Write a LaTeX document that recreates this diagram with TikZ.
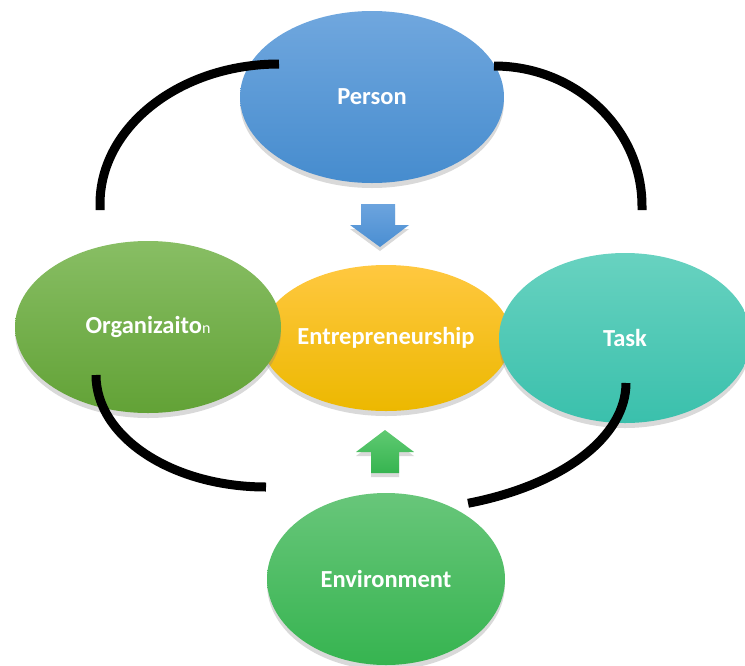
\documentclass[tikz,border=0pt]{standalone}
\usepackage{fontspec}
\setmainfont{Carlito}
\usetikzlibrary{shapes.geometric,shadows}

% Colores
\definecolor{personaArriba}{RGB}{112,167,222}
\definecolor{personaAbajo}{RGB}{70,140,206}
\definecolor{orgArriba}{RGB}{136,190,100}
\definecolor{orgAbajo}{RGB}{98,162,54}
\definecolor{empArriba}{RGB}{255,200,64}
\definecolor{empAbajo}{RGB}{236,184,0}
\definecolor{tareaArriba}{RGB}{104,210,192}
\definecolor{tareaAbajo}{RGB}{58,192,172}
\definecolor{entornoArriba}{RGB}{104,198,122}
\definecolor{entornoAbajo}{RGB}{54,180,80}
\definecolor{flechaAzulArriba}{RGB}{108,164,222}
\definecolor{flechaAzulAbajo}{RGB}{74,142,210}
\definecolor{flechaVerdeArriba}{RGB}{96,202,114}
\definecolor{flechaVerdeAbajo}{RGB}{54,180,80}

\tikzset{
  elipse/.style={ellipse, inner sep=0pt, text=white,
    font=\bfseries\fontsize{24.5}{28}\selectfont,
    drop shadow={shadow xshift=0pt, shadow yshift=-5pt, opacity=0.3}},
  anillo/.style={line width=9pt, black},
  sombra/.style={drop shadow={shadow xshift=0pt, shadow yshift=-4pt, opacity=0.3}}
}

\begin{document}
\begin{tikzpicture}[x=1pt,y=1pt]

  \useasboundingbox (0,0) rectangle (745,-665);

  % Elipse central
  \node[elipse, minimum width=250pt, minimum height=146pt,
    top color=empArriba, bottom color=empAbajo] (emp) at (386,-338) {Entrepreneurship};

  % Elipses alrededor
  \node[elipse, minimum width=264pt, minimum height=172pt,
    top color=personaArriba, bottom color=personaAbajo] (persona) at (372,-97) {Person};
  \node[elipse, minimum width=266pt, minimum height=172pt,
    top color=orgArriba, bottom color=orgAbajo] (org) at (148,-327)
    {Organizaito{\mdseries\fontsize{16}{16}\selectfont n}};
  \node[elipse, minimum width=252pt, minimum height=170pt,
    top color=tareaArriba, bottom color=tareaAbajo] (tarea) at (625,-338) {Task};
  \node[elipse, minimum width=238pt, minimum height=172pt,
    top color=entornoArriba, bottom color=entornoAbajo] (entorno) at (386,-579) {Environment};

  % Flechas
  \shade[sombra, top color=flechaAzulArriba, bottom color=flechaAzulAbajo]
    (361,-204) -- (395,-204) -- (395,-225) -- (409,-225) -- (380,-247)
    -- (350,-225) -- (361,-225) -- cycle; % Flecha hacia abajo
  \shade[sombra, top color=flechaVerdeArriba, bottom color=flechaVerdeAbajo]
    (385,-430) -- (414,-452) -- (399,-452) -- (399,-473) -- (371,-473)
    -- (371,-452) -- (356,-452) -- cycle; % Flecha hacia arriba

  % Arcos negros
  \draw[anillo] (279,-64) arc[start angle=90, end angle=180, x radius=179, y radius=140] -- (100,-210);
  \draw[anillo] (494,-66) arc[start angle=90, end angle=0, x radius=148, y radius=140] -- (642,-210);
  \draw[anillo] (96,-375) arc[start angle=180, end angle=270, x radius=170, y radius=112];
  \draw[anillo] (626,-383) arc[start angle=0, end angle=-70, x radius=240, y radius=128];

\end{tikzpicture}
\end{document}
